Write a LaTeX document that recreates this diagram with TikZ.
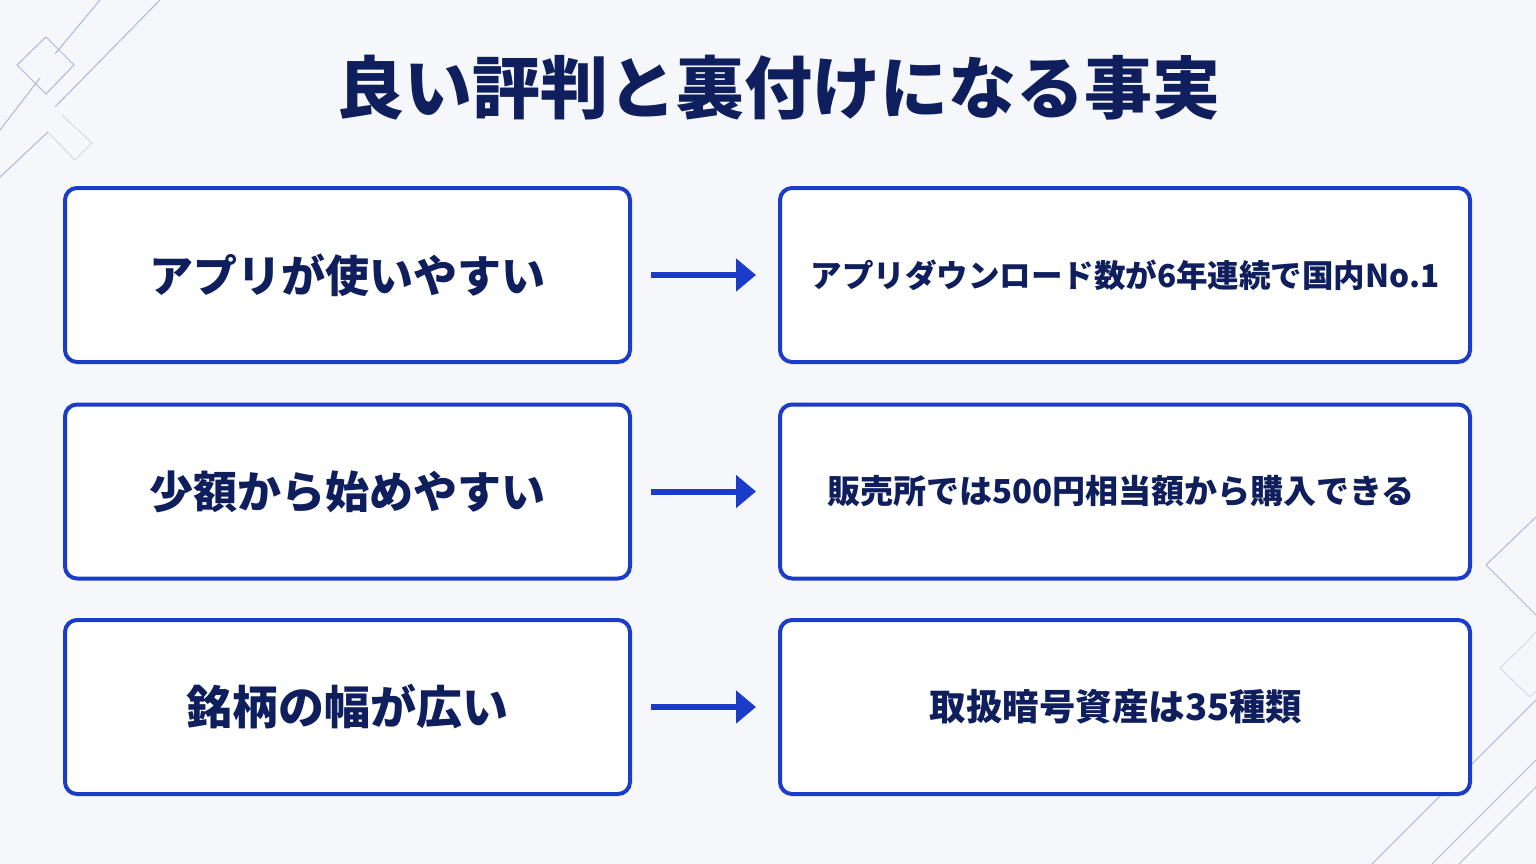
\documentclass[tikz,border=0pt]{standalone}
\usepackage{fontspec}
\setmainfont{Noto Sans CJK JP}
\usetikzlibrary{arrows.meta}
\definecolor{bg}{HTML}{F6F7FB}
\definecolor{boxblue}{HTML}{1A3CC8}
\definecolor{navy}{HTML}{0F1E5C}
\definecolor{deco}{HTML}{AEB6D8}
\definecolor{decolight}{HTML}{D3D8EA}
\newcommand{\fsz}[1]{\fontsize{#1}{#1}\selectfont\bfseries}
\tikzset{
  box/.style={draw=boxblue, line width=4pt, rounded corners=12pt, fill=white,
    minimum height=174pt, text=navy, font=\bfseries},
  lbox/.style={box, minimum width=565pt, font=\fsz{44}},
  rbox/.style={box, minimum width=690pt, font=\fsz{32}},
  link/.style={draw=boxblue, line width=6pt, -{Triangle[length=20pt,width=32pt]},
    shorten <=19pt, shorten >=22pt},
  decoline/.style={draw=deco, line width=1pt},
  decofaint/.style={draw=decolight, line width=1pt},
}
\begin{document}
\begin{tikzpicture}[x=1pt,y=-1pt]
\fill[bg] (0,0) rectangle (1536,864);
\useasboundingbox (0,0) rectangle (1536,864);
% top-left decoration
\draw[decoline] (0,130) -- (40,78);
\draw[decoline] (55,54) -- (100,0);
\draw[decoline] (46,37) -- (74,65) -- (46,94) -- (17,65) -- cycle;
\draw[decoline] (0,177) -- (48,132);
\draw[decoline] (55,107) -- (160,0);
\draw[decofaint] (62,115) -- (92,143) -- (75,160) -- (48,132);
% bottom-right decoration
\draw[decoline] (1536,517) -- (1486,565) -- (1536,615);
\draw[decofaint] (1536,632) -- (1528,641) -- (1500,668) -- (1530,697) -- (1536,691);
\draw[decoline] (1536,700) -- (1372,864);
\draw[decoline] (1536,760) -- (1432,864);
\draw[decoline] (1536,787) -- (1459,864);
% title
\node[text=navy, font=\fsz{68}] (title) at (778,88) {良い評判と裏付けになる事実};
% boxes
\node[lbox] (l1) at (347.5,275) {アプリが使いやすい};
\node[lbox] (l2) at (347.5,491.5) {少額から始めやすい};
\node[lbox, font=\fsz{46}] (l3) at (347.5,707) {銘柄の幅が広い};
\node[rbox, font=\fsz{31.5}] (r1) at (1125,275) {アプリダウンロード数が6年連続で国内No.1};
\node[rbox, font=\fsz{33}] (r2) at (1125,491.5) {販売所では500円相当額から購入できる\hspace*{8pt}};
\node[rbox, font=\fsz{36.5}] (r3) at (1125,707) {取扱暗号資産は35種類\hspace*{18pt}};
% arrows
\draw[link] (l1) -- (r1);
\draw[link] (l2) -- (r2);
\draw[link] (l3) -- (r3);
\end{tikzpicture}
\end{document}
